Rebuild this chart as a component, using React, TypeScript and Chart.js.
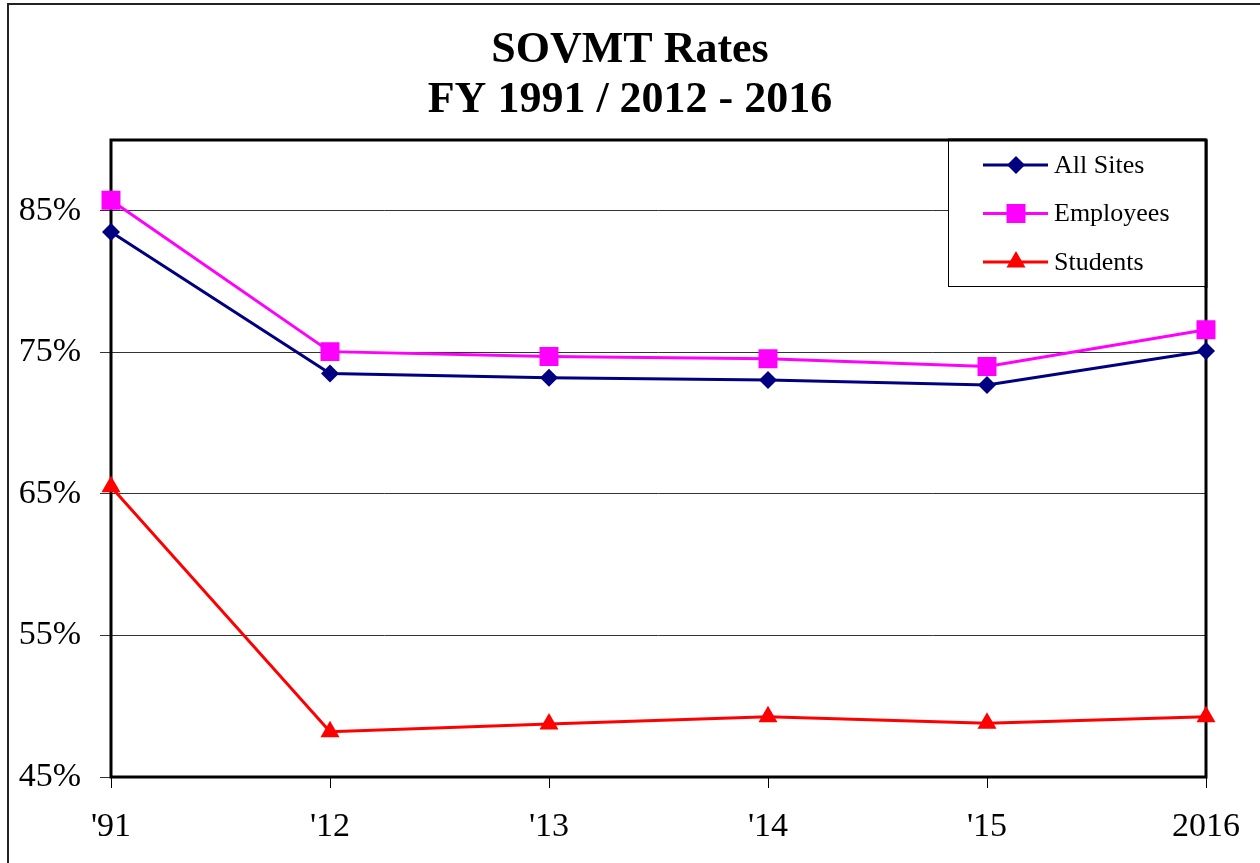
import React, { useEffect, useRef } from "react";
import { Chart, registerables } from "chart.js";

Chart.register(...registerables);

const categories = ["'91", "'12", "'13", "'14", "'15", "2016"];
const allSites = [83.5, 73.5, 73.2, 73.05, 72.7, 75.1];
const employees = [85.75, 75.05, 74.7, 74.55, 74.0, 76.6];
const students = [65.5, 48.2, 48.75, 49.25, 48.8, 49.25];
const yTicks = [45, 55, 65, 75, 85];
const seriesNames = ["All Sites", "Employees", "Students"];
const seriesColors = ["#000080", "#FF00FF", "#FF0000"];
const seriesMarkers = ["rectRot", "rect", "triangle"];
const seriesRadii = [9, 13.4, 11];
const titleLines = ["SOVMT Rates", "FY 1991 / 2012 - 2016"];

const FONT = "'Liberation Serif', 'DejaVu Serif', serif";

function drawMarker(ctx: CanvasRenderingContext2D, kind: string, x: number, y: number, r: number, color: string) {
  ctx.save();
  ctx.fillStyle = color;
  ctx.beginPath();
  if (kind === "rectRot") {
    ctx.moveTo(x, y - r);
    ctx.lineTo(x + r, y);
    ctx.lineTo(x, y + r);
    ctx.lineTo(x - r, y);
  } else if (kind === "rect") {
    const s = r * Math.SQRT1_2;
    ctx.rect(x - s, y - s, 2 * s, 2 * s);
  } else {
    const a = (2 * Math.PI) / 3;
    for (let i = 0; i < 3; i++) {
      const px = x + Math.sin(a * i) * r;
      const py = y - Math.cos(a * i) * r;
      if (i === 0) ctx.moveTo(px, py);
      else ctx.lineTo(px, py);
    }
  }
  ctx.closePath();
  ctx.fill();
  ctx.restore();
}

const framePlugin = {
  id: "frames",
  beforeDraw(chart: any) {
    const ctx = chart.ctx as CanvasRenderingContext2D;
    ctx.save();
    ctx.strokeStyle = "#222";
    ctx.lineWidth = 2;
    ctx.beginPath();
    ctx.moveTo(8, chart.height);
    ctx.lineTo(8, 4);
    ctx.lineTo(chart.width, 4);
    ctx.stroke();
    ctx.fillStyle = "#000";
    ctx.font = `bold 44px ${FONT}`;
    ctx.textAlign = "center";
    ctx.textBaseline = "middle";
    titleLines.forEach((t, i) => ctx.fillText(t, 630, 51 + i * 50));
    ctx.restore();
  },
  beforeDatasetsDraw(chart: any) {
    const ctx = chart.ctx as CanvasRenderingContext2D;
    const a = chart.chartArea;
    ctx.save();
    ctx.strokeStyle = "#000";
    ctx.lineWidth = 3;
    ctx.strokeRect(a.left, a.top, a.right - a.left, a.bottom - a.top);
    ctx.restore();
  },
  afterDatasetsDraw(chart: any) {
    const ctx = chart.ctx as CanvasRenderingContext2D;
    const a = chart.chartArea;
    const w = 258;
    const h = 146;
    const x0 = a.right - w;
    const y0 = a.top;
    ctx.save();
    ctx.fillStyle = "#fff";
    ctx.fillRect(x0, y0, w, h);
    ctx.strokeStyle = "#000";
    ctx.lineWidth = 1;
    ctx.strokeRect(x0 + 0.5, y0 + 0.5, w, h);
    ctx.lineWidth = 3;
    ctx.beginPath();
    ctx.moveTo(a.right, a.top);
    ctx.lineTo(a.right, a.top + h + 2);
    ctx.moveTo(x0, a.top);
    ctx.lineTo(a.right, a.top);
    ctx.stroke();
    ctx.font = `26px ${FONT}`;
    ctx.textBaseline = "middle";
    ctx.textAlign = "left";
    for (let i = 0; i < seriesNames.length; i++) {
      const cy = y0 + 25 + i * 48.5;
      ctx.strokeStyle = seriesColors[i];
      ctx.lineWidth = 3;
      ctx.beginPath();
      ctx.moveTo(x0 + 35, cy);
      ctx.lineTo(x0 + 100, cy);
      ctx.stroke();
      drawMarker(ctx, seriesMarkers[i], x0 + 68, cy, seriesRadii[i], seriesColors[i]);
      ctx.fillStyle = "#000";
      ctx.fillText(seriesNames[i], x0 + 106, cy + 1);
    }
    ctx.restore();
  },
};

export default function App() {
  const ref = useRef<HTMLCanvasElement | null>(null);
  useEffect(() => {
    if (!ref.current) return;
    const values = [allSites, employees, students];
    const chart = new Chart(ref.current, {
      type: "line",
      data: {
        labels: categories,
        datasets: seriesNames.map((name, i) => ({
          label: name,
          data: values[i],
          borderColor: seriesColors[i],
          backgroundColor: seriesColors[i],
          borderWidth: 3,
          pointStyle: seriesMarkers[i] as any,
          pointRadius: seriesRadii[i],
          pointHoverRadius: seriesRadii[i],
          pointBorderWidth: 0,
          tension: 0,
          fill: false,
        })),
      },
      options: {
        animation: false,
        responsive: false,
        events: [],
        layout: { padding: { left: 0, right: 54, top: 140, bottom: 0 } },
        plugins: {
          legend: { display: false },
          tooltip: { enabled: false },
          title: { display: false },
        },
        scales: {
          x: {
            type: "category",
            offset: false,
            border: { display: false },
            grid: { display: true, drawOnChartArea: false, drawTicks: true, tickLength: 11, color: "#000", lineWidth: 1 },
            ticks: { color: "#000", font: { family: FONT, size: 34 }, padding: 19, maxRotation: 0, autoSkip: false },
            afterFit: (s: any) => { s.height = 86; },
          },
          y: {
            min: 45,
            max: 90,
            border: { display: false },
            grid: { color: "#333", lineWidth: 1, tickLength: 11 },
            ticks: {
              color: "#000",
              font: { family: FONT, size: 34 },
              padding: 19,
              callback: (v: any) => `${v}%`,
            },
            afterBuildTicks: (s: any) => { s.ticks = yTicks.map((v) => ({ value: v })); },
            afterFit: (s: any) => { s.width = 111; },
          },
        },
      },
      plugins: [framePlugin],
    });
    return () => chart.destroy();
  }, []);
  return (
    <div style={{ position: "fixed", left: 0, top: 0, width: 1260, height: 863, background: "#fff" }}>
      <canvas ref={ref} width={1260} height={863} style={{ display: "block" }} />
    </div>
  );
}
